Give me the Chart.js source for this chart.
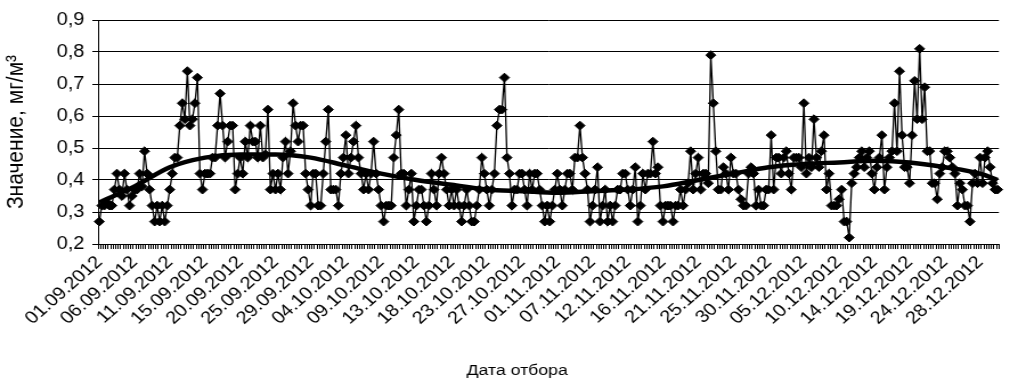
<!DOCTYPE html>
<html>
<head>
<meta charset="utf-8">
<script src="https://cdn.jsdelivr.net/npm/chart.js@4.4.1/dist/chart.umd.min.js"></script>
<style>
  html, body { margin: 0; padding: 0; background: #fff; overflow: hidden; }
  #c { width: 1018px; height: 383px; display: block; }
</style>
</head>
<body>
<!-- the reference picture is horizontally stretched; the canvas is drawn narrower and shown at 1018px -->
<canvas id="c" width="893" height="383" style="width:1018px;height:383px;display:block"></canvas>
<script>
// ---- data ----
const tickLabels = [
  "01.09.2012","06.09.2012","11.09.2012","15.09.2012","20.09.2012","25.09.2012",
  "29.09.2012","04.10.2012","09.10.2012","13.10.2012","18.10.2012","23.10.2012",
  "27.10.2012","01.11.2012","07.11.2012","12.11.2012","16.11.2012","21.11.2012",
  "25.11.2012","30.11.2012","05.12.2012","10.12.2012","14.12.2012","19.12.2012",
  "24.12.2012","28.12.2012"
];
const samplesPerLabel = 14;
const yTitle = 'Значение, мг/м³';
const xTitle = 'Дата отбора';

const valuesPart1 = [
  0.27,0.32,0.32,0.33,0.32,0.32,0.37,0.42,0.37,0.35,
  0.42,0.37,0.32,0.35,0.37,0.37,0.42,0.38,0.49,0.42,
  0.37,0.32,0.27,0.32,0.27,0.32,0.27,0.32,0.37,0.42,
  0.47,0.47,0.57,0.64,0.59,0.74,0.57,0.59,0.64,0.72,
  0.42,0.37,0.42,0.42,0.42,0.47,0.47,0.57,0.67,0.57,
  0.47,0.52,0.57,0.57,0.37,0.42,0.47,0.42,0.52,0.47,
  0.57,0.52,0.52,0.47,0.57,0.47,0.48,0.62,0.37
];
const valuesPart2 = [
  0.42,0.37,0.42,0.37,0.47,0.52,0.42,0.49,0.64,0.57,
  0.52,0.57,0.57,0.42,0.37,0.32,0.42,0.42,0.32,0.32,
  0.42,0.52,0.62,0.37,0.37,0.37,0.32,0.42,0.47,0.54,
  0.42,0.47,0.52,0.57,0.47,0.42,0.37,0.42,0.37,0.42,
  0.52,0.42,0.37,0.32,0.27,0.32,0.32,0.32,0.47,0.54,
  0.62,0.42,0.42,0.32,0.37,0.42,0.27,0.32,0.37,0.37,
  0.32,0.27,0.32,0.42,0.37,0.32,0.42,0.47,0.42,0.37,
  0.32,0.37
];
const valuesPart3 = [
  0.32,0.37,0.32,0.27,0.32,0.37,0.32,0.27,0.27,0.32,
  0.37,0.47,0.42,0.37,0.32,0.37,0.42,0.57,0.62,0.62,
  0.72,0.47,0.42,0.32,0.37,0.37,0.42,0.42,0.37,0.32,
  0.42,0.37,0.42,0.42,0.37,0.32,0.27,0.32,0.27,0.32,
  0.37,0.42,0.37,0.32,0.37,0.42,0.42,0.37,0.47,0.47,
  0.57,0.47,0.42,0.37,0.27,0.32,0.37,0.44,0.27,0.32,
  0.37,0.27,0.32,0.27,0.32,0.37,0.37,0.42
];
const valuesPart4 = [
  0.42,0.37,0.32,0.37,0.44,0.27,0.32,0.42,0.37,0.42,
  0.42,0.52,0.42,0.44,0.32,0.27,0.32,0.32,0.32,0.27,
  0.32,0.32,0.37,0.32,0.37,0.39,0.49,0.37,0.42,0.47,
  0.37,0.42,0.42,0.39,0.79,0.64,0.49,0.37,0.37,0.44,
  0.42,0.37,0.47,0.42,0.42,0.37,0.34,0.32,0.32,0.42,
  0.44,0.42,0.32,0.37,0.32,0.32,0.37,0.37,0.54,0.37,
  0.47,0.47,0.42,0.47,0.49,0.42,0.37,0.47,0.47,0.47,
  0.44,0.64
];
const valuesPart5 = [
  0.42,0.47,0.44,0.59,0.47,0.44,0.49,0.54,0.37,0.42,
  0.32,0.32,0.32,0.34,0.37,0.27,0.27,0.22,0.39,0.42,
  0.44,0.47,0.49,0.44,0.47,0.49,0.42,0.37,0.44,0.47,
  0.54,0.37,0.44,0.47,0.49,0.64,0.49,0.74,0.54,0.44,
  0.44,0.39,0.54,0.71,0.59,0.81,0.59,0.69,0.49,0.49,
  0.39,0.39,0.34,0.42,0.44,0.49,0.49,0.47,0.44,0.42,
  0.32,0.39,0.37,0.32,0.32,0.27,0.39,0.42,0.39,0.47,
  0.39,0.47,0.49,0.44,0.39,0.37,0.37
];

// trend line (thick smooth curve) read at sample indices
const trendIndex  = [0,14,28,42,56,70,84,98,112,126,140,154,168,182,196,210,224,238,252,266,280,294,308,322,336,350,357];
const trendValues = [0.33,0.38,0.44,0.47,0.48,0.48,0.47,0.445,0.42,0.40,0.385,0.37,0.365,0.36,0.365,0.37,0.38,0.40,0.42,0.44,0.45,0.455,0.46,0.455,0.44,0.42,0.40];

// ---- build library structures ----
const values = [].concat(valuesPart1, valuesPart2, valuesPart3, valuesPart4, valuesPart5);
const categories = values.map((_, i) => tickLabels[Math.min(tickLabels.length - 1, Math.floor(i / samplesPerLabel))]);
const trendData = values.map(() => null);
trendIndex.forEach((k, j) => { trendData[k] = trendValues[j]; });

const FONT = "'Liberation Sans', Arial, sans-serif";

const xTitlePlugin = {
  id: 'xTitle',
  afterDraw(chart) {
    const ctx = chart.ctx;
    ctx.save();
    ctx.font = `15.5px ${FONT}`;
    ctx.fillStyle = '#000';
    ctx.textAlign = 'center';
    ctx.textBaseline = 'middle';
    ctx.fillText(xTitle, chart.width * 0.508, 371);
    ctx.restore();
  }
};

new Chart(document.getElementById('c'), {
  type: 'line',
  data: {
    labels: categories,
    datasets: [
      {
        label: 'trend',
        data: trendData,
        spanGaps: true,
        borderColor: '#000',
        borderWidth: 4.5,
        pointRadius: 0,
        cubicInterpolationMode: 'monotone',
        order: 0
      },
      {
        label: 'Значение',
        data: values,
        borderColor: '#000',
        borderWidth: 1.3,
        backgroundColor: '#000',
        pointStyle: 'rectRot',
        pointRadius: 4.4,
        pointBorderWidth: 1,
        pointBackgroundColor: '#000',
        pointBorderColor: '#000',
        tension: 0,
        order: 1
      }
    ]
  },
  plugins: [xTitlePlugin],
  options: {
    responsive: false,
    animation: false,
    devicePixelRatio: 1,
    layout: { padding: { top: 20, right: 0, left: 0, bottom: 0 } },
    plugins: { legend: { display: false }, tooltip: { enabled: false } },
    scales: {
      x: {
        type: 'category',
        offset: true,
        grid: { display: true, drawOnChartArea: false, drawTicks: true, tickLength: 5, color: '#000', offset: true },
        border: { display: true, color: '#000', width: 1 },
        ticks: {
          autoSkip: false, maxRotation: 45, minRotation: 45, padding: 3,
          color: '#000', font: { family: FONT, size: 17.5 },
          callback: (v, i) => (i % samplesPerLabel === 0 ? categories[i] : '')
        },
        title: { display: false },
        afterFit: s => { s.height = 139; }
      },
      y: {
        min: 0.2, max: 0.9,
        grid: { color: '#000', lineWidth: 1, drawTicks: true, tickLength: 5 },
        border: { display: true, color: '#000', width: 1 },
        ticks: {
          stepSize: 0.1, padding: 7, color: '#000', font: { family: FONT, size: 17.5 },
          callback: v => Number(v).toFixed(1).replace('.', ',')
        },
        title: { display: true, text: yTitle, color: '#000', font: { family: FONT, size: 21 }, padding: { top: 2, bottom: 0 } },
        afterFit: s => { s.width = 86; }
      }
    }
  }
});
</script>
</body>
</html>
